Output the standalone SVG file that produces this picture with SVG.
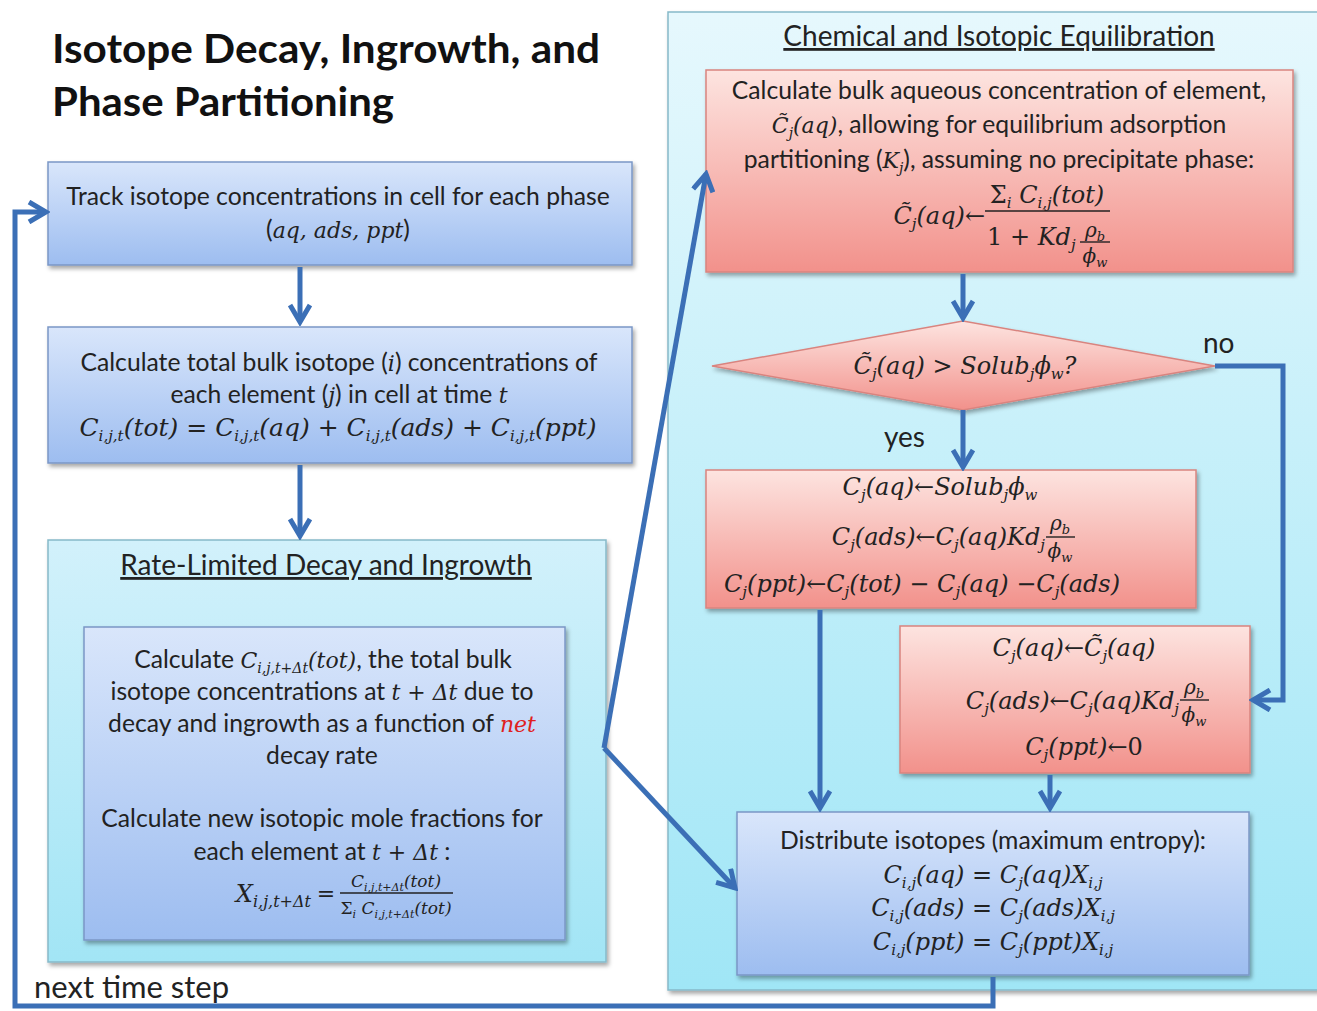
<svg xmlns="http://www.w3.org/2000/svg" width="1317" height="1011" viewBox="0 0 1317 1011">
<defs>
<linearGradient id="gBlue" x1="0" y1="0" x2="0" y2="1"><stop offset="0" stop-color="#d9e6fb"/><stop offset="1" stop-color="#9dbdf0"/></linearGradient>
<linearGradient id="gRed" x1="0" y1="0" x2="0" y2="1"><stop offset="0" stop-color="#fde4e0"/><stop offset="1" stop-color="#f2918b"/></linearGradient>
<linearGradient id="gCyanR" x1="0" y1="0" x2="0" y2="1"><stop offset="0" stop-color="#e6f8fd"/><stop offset="1" stop-color="#a0e6f6"/></linearGradient>
<linearGradient id="gCyanL" x1="0" y1="0" x2="0" y2="1"><stop offset="0" stop-color="#d2f1fb"/><stop offset="1" stop-color="#a2e5f5"/></linearGradient>
<filter id="sh" x="-5%" y="-5%" width="112%" height="115%"><feDropShadow dx="2" dy="3" stdDeviation="2" flood-color="#000" flood-opacity="0.35"/></filter>
<marker id="ah" viewBox="0 0 24 24" refX="20" refY="12" markerWidth="24" markerHeight="24" markerUnits="userSpaceOnUse" orient="auto">
<path d="M3,2 L20,12 L3,22" fill="none" stroke="#3b6fb6" stroke-width="5" stroke-linejoin="miter"/>
</marker>
<style>
.t{font-family:Lato,"Liberation Sans",sans-serif;font-size:24.7px;fill:#222;text-anchor:middle}
.ttl{font-family:Lato,"Liberation Sans",sans-serif;font-size:41px;font-weight:bold;fill:#111}
.hd{font-family:Lato,"Liberation Sans",sans-serif;font-size:28px;fill:#222;text-anchor:middle;text-decoration:underline}
.m{font-family:"DejaVu Serif","Liberation Serif",serif;font-style:italic;font-size:24px;fill:#222}
.m19{font-size:20px}
.mc{text-anchor:middle}
.me{text-anchor:end}
.i{font-family:"DejaVu Serif","Liberation Serif",serif;font-style:italic;font-size:22px}
.n{font-style:normal}
.sb{font-size:15px}
.sb13{font-size:13px}
.blue{fill:url(#gBlue);stroke:#7b97c6;stroke-width:1.5;filter:url(#sh)}
.red{fill:url(#gRed);stroke:#d9847f;stroke-width:1.5;filter:url(#sh)}
.pan{stroke:#86b9c9;stroke-width:1.5;filter:url(#sh)}
.bar{stroke:#222;stroke-width:1.4}
.c{fill:none;stroke:#3b6fb6;stroke-width:5}
.lbl{font-family:Lato,"Liberation Sans",sans-serif;font-size:28px;fill:#222}
</style>
</defs>
<rect width="1317" height="1011" fill="#ffffff"/>

<g id="title">
<text class="ttl" x="52" y="63" textLength="548" lengthAdjust="spacingAndGlyphs">Isotope Decay, Ingrowth, and</text>
<text class="ttl" x="52" y="116" textLength="342" lengthAdjust="spacingAndGlyphs">Phase Partitioning</text>
</g>

<g id="panel-rate">
<rect class="pan" x="48" y="540" width="558" height="422" fill="url(#gCyanL)"/>
<text class="hd" x="326" y="575">Rate-Limited Decay and Ingrowth</text>
</g>

<g id="panel-equil">
<rect class="pan" x="668" y="12" width="660" height="978" fill="url(#gCyanR)"/>
<text class="hd" x="999" y="46">Chemical and Isotopic Equilibration</text>
</g>

<g id="track">
<rect class="blue" x="48" y="162" width="584" height="103"/>
<text class="t" x="338" y="205">Track isotope concentrations in cell for each phase</text>
<text class="t" x="338" y="238">(<tspan class="i">aq, ads, ppt</tspan>)</text>
</g>

<g id="bulk">
<rect class="blue" x="48" y="327" width="584" height="136"/>
<text class="t" x="339" y="371">Calculate total bulk isotope (<tspan class="i">i</tspan>) concentrations of</text>
<text class="t" x="339" y="403">each element (<tspan class="i">j</tspan>) in cell at time <tspan class="i">t</tspan></text>
<text class="m mc" x="338" y="436" style="font-size:25px">C<tspan class="sb" baseline-shift="-5">i,j,t</tspan>(tot) <tspan class="n">=</tspan> C<tspan class="sb" baseline-shift="-5">i,j,t</tspan>(aq) <tspan class="n">+</tspan> C<tspan class="sb" baseline-shift="-5">i,j,t</tspan>(ads) <tspan class="n">+</tspan> C<tspan class="sb" baseline-shift="-5">i,j,t</tspan>(ppt)</text>
</g>

<g id="decay">
<rect class="blue" x="84" y="627" width="481" height="313"/>
<text class="t" x="323" y="668">Calculate <tspan class="i">C<tspan font-size="14" baseline-shift="-5">i,j,t+Δt</tspan>(tot)</tspan>, the total bulk</text>
<text class="t" x="322" y="700">isotope concentrations at <tspan class="i">t <tspan class="n">+</tspan> Δt</tspan> due to</text>
<text class="t" x="322" y="732">decay and ingrowth as a function of <tspan class="i" fill="#e02020">net</tspan></text>
<text class="t" x="322" y="764">decay rate</text>
<text class="t" x="322" y="827">Calculate new isotopic mole fractions for</text>
<text class="t" x="322" y="860">each element at <tspan class="i">t <tspan class="n">+</tspan> Δt</tspan> :</text>
<text class="m me" x="311" y="902">X<tspan font-size="16" baseline-shift="-5">i,j,t+Δt</tspan></text>
<text class="m mc" x="326" y="901" style="font-size:22px"><tspan class="n">=</tspan></text>
<text class="m mc" x="396" y="887" style="font-size:17px">C<tspan font-size="11" baseline-shift="-4">i,j,t+Δt</tspan>(tot)</text>
<line class="bar" x1="340" y1="893" x2="453" y2="893"/>
<text class="m mc" x="396" y="914" style="font-size:17px"><tspan class="n">Σ</tspan><tspan font-size="11" baseline-shift="-4">i</tspan> C<tspan font-size="11" baseline-shift="-4">i,j,t+Δt</tspan>(tot)</text>
</g>

<g id="bulk-aq">
<rect class="red" x="706" y="70" width="587" height="202"/>
<text class="t" x="999" y="99">Calculate bulk aqueous concentration of element,</text>
<text class="t" x="999" y="133"><tspan class="i">C̃<tspan font-size="14" baseline-shift="-5">j</tspan>(aq)</tspan>, allowing for equilibrium adsorption</text>
<text class="t" x="999" y="168">partitioning (<tspan class="i">K<tspan font-size="14" baseline-shift="-5">j</tspan></tspan>), assuming no precipitate phase:</text>
<text class="m me" x="985" y="224">C̃<tspan class="sb" baseline-shift="-5">j</tspan>(aq)<tspan class="n">←</tspan></text>
<text class="m mc" x="1047" y="203"><tspan class="n">Σ</tspan><tspan class="sb" baseline-shift="-5">i</tspan> C<tspan class="sb" baseline-shift="-5">i,j</tspan>(tot)</text>
<line class="bar" x1="985" y1="211" x2="1110" y2="211"/>
<text class="m" x="987" y="245"><tspan class="n">1 + </tspan>Kd<tspan class="sb" baseline-shift="-5">j</tspan></text>
<text class="m m19 mc" x="1095" y="237">ρ<tspan class="sb13" baseline-shift="-4">b</tspan></text>
<line class="bar" x1="1080" y1="242" x2="1110" y2="242"/>
<text class="m m19 mc" x="1095" y="263">ϕ<tspan class="sb13" baseline-shift="-4">w</tspan></text>
</g>

<g id="decision">
<polygon points="712,366 963,321 1215,366 963,410" fill="url(#gRed)" stroke="#d9847f" stroke-width="1.5" filter="url(#sh)"/>
<text class="m mc" x="965" y="374">C̃<tspan class="sb" baseline-shift="-5">j</tspan>(aq) <tspan class="n">&gt;</tspan> Solub<tspan class="sb" baseline-shift="-5">j</tspan>ϕ<tspan class="sb" baseline-shift="-5">w</tspan>?</text>
</g>

<g id="precip">
<rect class="red" x="706" y="470" width="490" height="138"/>
<text class="m mc" x="940" y="495">C<tspan class="sb" baseline-shift="-5">j</tspan>(aq)<tspan class="n">←</tspan>Solub<tspan class="sb" baseline-shift="-5">j</tspan>ϕ<tspan class="sb" baseline-shift="-5">w</tspan></text>
<text class="m me" x="1045" y="545">C<tspan class="sb" baseline-shift="-5">j</tspan>(ads)<tspan class="n">←</tspan>C<tspan class="sb" baseline-shift="-5">j</tspan>(aq)Kd<tspan class="sb" baseline-shift="-5">j</tspan></text>
<text class="m m19 mc" x="1060" y="530">ρ<tspan class="sb13" baseline-shift="-4">b</tspan></text>
<line class="bar" x1="1046" y1="537" x2="1075" y2="537"/>
<text class="m m19 mc" x="1060" y="558">ϕ<tspan class="sb13" baseline-shift="-4">w</tspan></text>
<text class="m mc" x="922" y="592">C<tspan class="sb" baseline-shift="-5">j</tspan>(ppt)<tspan class="n">←</tspan>C<tspan class="sb" baseline-shift="-5">j</tspan>(tot) <tspan class="n">−</tspan> C<tspan class="sb" baseline-shift="-5">j</tspan>(aq) <tspan class="n">−</tspan>C<tspan class="sb" baseline-shift="-5">j</tspan>(ads)</text>
</g>

<g id="noprecip">
<rect class="red" x="900" y="626" width="350" height="147"/>
<text class="m mc" x="1074" y="656">C<tspan class="sb" baseline-shift="-5">j</tspan>(aq)<tspan class="n">←</tspan>C̃<tspan class="sb" baseline-shift="-5">j</tspan>(aq)</text>
<text class="m me" x="1179" y="709">C<tspan class="sb" baseline-shift="-5">j</tspan>(ads)<tspan class="n">←</tspan>C<tspan class="sb" baseline-shift="-5">j</tspan>(aq)Kd<tspan class="sb" baseline-shift="-5">j</tspan></text>
<text class="m m19 mc" x="1194" y="694">ρ<tspan class="sb13" baseline-shift="-4">b</tspan></text>
<line class="bar" x1="1180" y1="700" x2="1209" y2="700"/>
<text class="m m19 mc" x="1194" y="722">ϕ<tspan class="sb13" baseline-shift="-4">w</tspan></text>
<text class="m mc" x="1084" y="755">C<tspan class="sb" baseline-shift="-5">j</tspan>(ppt)<tspan class="n">←0</tspan></text>
</g>

<g id="distribute">
<rect class="blue" x="737" y="812" width="512" height="163"/>
<text class="t" x="993" y="849">Distribute isotopes (maximum entropy):</text>
<text class="m mc" x="993" y="883">C<tspan class="sb" baseline-shift="-5">i,j</tspan>(aq) <tspan class="n">=</tspan> C<tspan class="sb" baseline-shift="-5">j</tspan>(aq)X<tspan class="sb" baseline-shift="-5">i,j</tspan></text>
<text class="m mc" x="993" y="916">C<tspan class="sb" baseline-shift="-5">i,j</tspan>(ads) <tspan class="n">=</tspan> C<tspan class="sb" baseline-shift="-5">j</tspan>(ads)X<tspan class="sb" baseline-shift="-5">i,j</tspan></text>
<text class="m mc" x="993" y="950">C<tspan class="sb" baseline-shift="-5">i,j</tspan>(ppt) <tspan class="n">=</tspan> C<tspan class="sb" baseline-shift="-5">j</tspan>(ppt)X<tspan class="sb" baseline-shift="-5">i,j</tspan></text>
</g>

<g id="connectors">
<line class="c" x1="300" y1="267" x2="300" y2="322" marker-end="url(#ah)"/>
<line class="c" x1="300" y1="465" x2="300" y2="536" marker-end="url(#ah)"/>
<polyline class="c" points="604,748 706,174" marker-end="url(#ah)"/>
<polyline class="c" points="604,748 735,888" marker-end="url(#ah)"/>
<line class="c" x1="963" y1="274" x2="963" y2="318" marker-end="url(#ah)"/>
<line class="c" x1="963" y1="410" x2="963" y2="467" marker-end="url(#ah)"/>
<polyline class="c" points="1215,366 1283,366 1283,700 1253,700" marker-end="url(#ah)"/>
<line class="c" x1="820" y1="610" x2="820" y2="808" marker-end="url(#ah)"/>
<line class="c" x1="1050" y1="775" x2="1050" y2="808" marker-end="url(#ah)"/>
<polyline class="c" points="993,977 993,1006 15,1006 15,212 46,212" marker-end="url(#ah)"/>
<text class="lbl" x="1203" y="353">no</text>
<text class="lbl" x="884" y="447">yes</text>
<text class="lbl" x="34" y="998" style="font-size:31px">next time step</text>
</g>
</svg>
